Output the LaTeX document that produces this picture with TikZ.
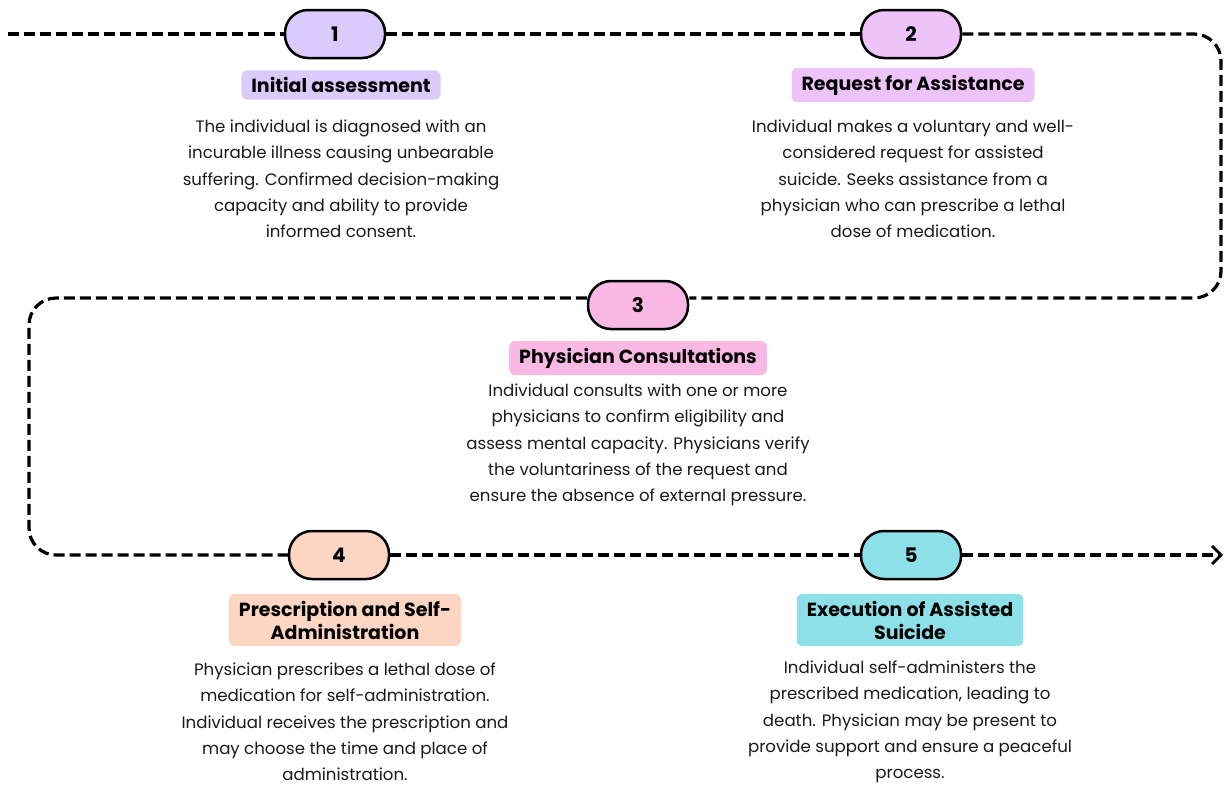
\documentclass[tikz,border=0pt]{standalone}
\usepackage{fontspec}
\setmainfont{Poppins}
\usetikzlibrary{arrows.meta}
\definecolor{cA}{HTML}{D9CCFC}
\definecolor{cB}{HTML}{EEC3F9}
\definecolor{cC}{HTML}{F9B9E4}
\definecolor{cD}{HTML}{FDD5C3}
\definecolor{cE}{HTML}{8DE0E8}
\definecolor{txt}{HTML}{1A1A1A}
\tikzset{
  pill/.style={draw=black, line width=2.5pt, rounded corners=23pt, minimum width=100pt, minimum height=48pt, inner sep=0pt, font=\fontsize{20}{22}\selectfont\bfseries},
  ttl/.style={rounded corners=6pt, inner xsep=10pt, inner ysep=7pt, align=center, font=\fontsize{19}{23}\selectfont\bfseries},
  body/.style={align=center, text=txt, font=\fontsize{16.6}{26.3}\selectfont},
  flow/.style={line width=3.2pt, dash pattern=on 11pt off 5pt, rounded corners=27pt}
}
\begin{document}
\begin{tikzpicture}[x=1pt,y=-1pt]
\useasboundingbox[fill=white] (0,0) rectangle (1225,788);
% pills
\node[pill, fill=cA] (p1) at (335,34) {1};
\node[pill, fill=cB] (p2) at (911,34) {2};
\node[pill, fill=cC] (p3) at (638,305) {3};
\node[pill, fill=cD] (p4) at (339,555) {4};
\node[pill, fill=cE] (p5) at (911,555) {5};
% titles
\node[ttl, fill=cA] (t1) at (341,85) {Initial assessment};
\node[ttl, fill=cB] (t2) at (913,85) {Request for Assistance};
\node[ttl, fill=cC] (t3) at (638,358) {Physician Consultations};
\node[ttl, fill=cD] (t4) at (345,620) {Prescription and Self-\\Administration};
\node[ttl, fill=cE] (t5) at (910,620) {Execution of Assisted\\Suicide};
% bodies
\node[body] (b1) at (341,179) {The individual is diagnosed with an\\incurable illness causing unbearable\\suffering. Confirmed decision-making\\capacity and ability to provide\\informed consent.};
\node[body] (b2) at (913,179) {Individual makes a voluntary and well-\\considered request for assisted\\suicide. Seeks assistance from a\\physician who can prescribe a lethal\\dose of medication.};
\node[body] (b3) at (638,445) {Individual consults with one or more\\physicians to confirm eligibility and\\assess mental capacity. Physicians verify\\the voluntariness of the request and\\ensure the absence of external pressure.};
\node[body] (b4) at (345,722) {Physician prescribes a lethal dose of\\medication for self-administration.\\Individual receives the prescription and\\may choose the time and place of\\administration.};
\node[body] (b5) at (910,722) {Individual self-administers the\\prescribed medication, leading to\\death. Physician may be present to\\provide support and ensure a peaceful\\process.};
% flow
\coordinate (s) at (8,34);
\coordinate (c1) at (1221,34);
\coordinate (c2) at (1221,298);
\coordinate (c3) at (29,298);
\coordinate (c4) at (29,555);
\coordinate (e) at (1223,555);
\draw[flow] (s) -- (p1.west);
\draw[flow] (p1.east) -- (p2.west);
\draw[flow] (p2.east) -- (c1) -- (c2) -- (p3.east |- c2);
\draw[flow] (p3.west |- c2) -- (c3) -- (c4) -- (p4.west);
\draw[flow] (p4.east) -- (p5.west);
\draw[flow, -{Straight Barb[length=9pt,width=18pt,line width=2.8pt]}] (p5.east) -- (e);
\end{tikzpicture}
\end{document}
